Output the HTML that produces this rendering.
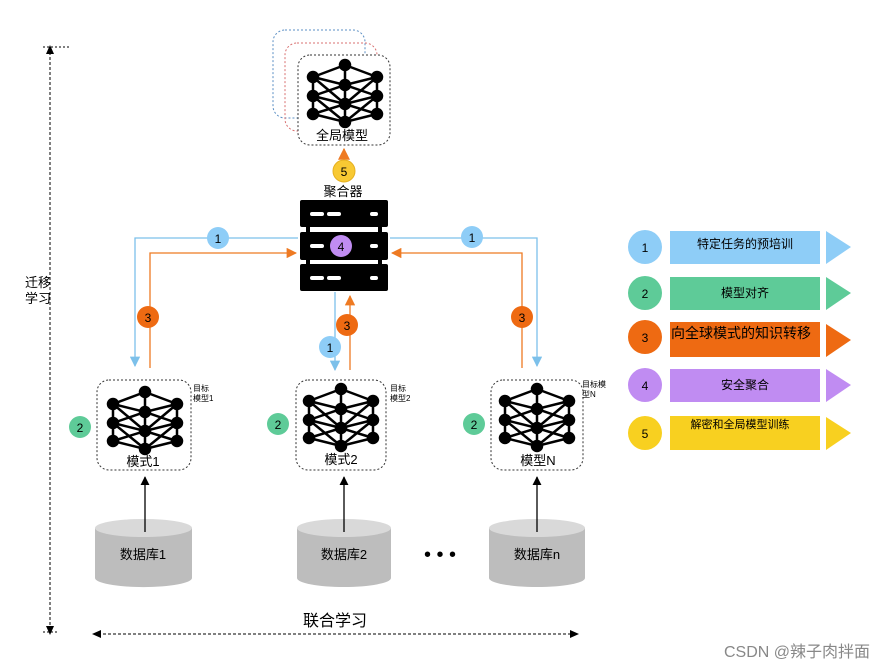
<!DOCTYPE html>
<html><head><meta charset="utf-8"><style>
body{margin:0;background:#fff;}
svg{display:block;font-family:"Liberation Sans","Noto Sans CJK SC",sans-serif;}
</style></head><body>
<svg width="886" height="670" viewBox="0 0 886 670" xmlns="http://www.w3.org/2000/svg">
<defs>
<g id="net" stroke="#000" stroke-width="2.5" fill="#000">
<path fill="none" d="M0,0 L-32,12 M0,0 L32,12 M-32,12 L-32,49 M32,12 L32,49 M0,0 L0,57 M-32,12 L0,20 L32,12 M-32,12 L0,39 M32,12 L0,39 M-32,31 L0,20 L32,31 M-32,31 L0,39 L32,31 M-32,31 L0,57 M32,31 L0,57 M-32,49 L0,39 L32,49 M-32,49 L0,57 L32,49"/>
<circle cx="0" cy="0" r="5"/><circle cx="0" cy="20" r="5"/><circle cx="0" cy="39" r="5"/><circle cx="0" cy="57" r="5"/>
<circle cx="-32" cy="12" r="5"/><circle cx="-32" cy="31" r="5"/><circle cx="-32" cy="49" r="5"/>
<circle cx="32" cy="12" r="5"/><circle cx="32" cy="31" r="5"/><circle cx="32" cy="49" r="5"/>
</g>
<marker id="ab" viewBox="0 0 10 10" refX="9" refY="5" markerWidth="8" markerHeight="8" orient="auto"><path d="M0,0 L10,5 L0,10z" fill="#7cc0ea"/></marker>
<marker id="ao" viewBox="0 0 10 10" refX="9" refY="5" markerWidth="8" markerHeight="8" orient="auto"><path d="M0,0 L10,5 L0,10z" fill="#ee7a22"/></marker>
<marker id="ak" viewBox="0 0 10 10" refX="9" refY="5" markerWidth="7" markerHeight="7" orient="auto"><path d="M0,0 L10,5 L0,10z" fill="#000"/></marker>
</defs>

<!-- global model stacked boxes -->
<rect x="273" y="30" width="92" height="88" rx="12" fill="none" stroke="#5b8fc4" stroke-dasharray="2,2"/>
<rect x="285" y="43" width="92" height="88" rx="12" fill="none" stroke="#d87070" stroke-dasharray="2,2"/>
<rect x="298" y="55" width="92" height="90" rx="12" fill="#fff" stroke="#333" stroke-dasharray="2,2"/>
<use href="#net" x="345" y="65"/>
<text x="342" y="140" font-size="13" text-anchor="middle">全局模型</text>

<!-- arrow 5 -->
<line x1="344" y1="162" x2="344" y2="149" stroke="#ee9a22" stroke-width="1.5" marker-end="url(#ao)"/>
<circle cx="344" cy="171" r="11" fill="#f8c933" stroke="#e6b020"/>
<text x="344" y="176" font-size="12" text-anchor="middle">5</text>
<text x="343" y="196" font-size="13" text-anchor="middle">聚合器</text>

<!-- server -->
<g fill="#000">
<rect x="300" y="200" width="88" height="27" rx="2"/>
<rect x="300" y="232" width="88" height="28" rx="2"/>
<rect x="300" y="264" width="88" height="27" rx="2"/>
<rect x="306" y="225" width="4" height="42"/><rect x="378" y="225" width="4" height="42"/>
</g>
<g fill="#fff">
<rect x="310" y="212" width="14" height="4" rx="2"/><rect x="327" y="212" width="14" height="4" rx="2"/><rect x="370" y="212" width="8" height="4" rx="2"/>
<rect x="310" y="244" width="14" height="4" rx="2"/><rect x="370" y="244" width="8" height="4" rx="2"/>
<rect x="310" y="276" width="14" height="4" rx="2"/><rect x="327" y="276" width="14" height="4" rx="2"/><rect x="370" y="276" width="8" height="4" rx="2"/>
</g>
<circle cx="341" cy="246" r="11" fill="#c08cf2"/>
<text x="341" y="251" font-size="12" text-anchor="middle">4</text>

<!-- connectors -->
<g fill="none" stroke-width="1.3">
<path d="M298,238 L135,238 L135,366" stroke="#7cc0ea" marker-end="url(#ab)"/>
<path d="M150,368 L150,253 L296,253" stroke="#ee7a22" marker-end="url(#ao)"/>
<path d="M390,238 L537,238 L537,366" stroke="#7cc0ea" marker-end="url(#ab)"/>
<path d="M522,368 L522,253 L392,253" stroke="#ee7a22" marker-end="url(#ao)"/>
<path d="M335,292 L335,370" stroke="#7cc0ea" marker-end="url(#ab)"/>
<path d="M350,370 L350,296" stroke="#ee7a22" marker-end="url(#ao)"/>
</g>
<g font-size="12" text-anchor="middle">
<circle cx="218" cy="238" r="11" fill="#8ecdf7"/><text x="218" y="243">1</text>
<circle cx="472" cy="237" r="11" fill="#8ecdf7"/><text x="472" y="242">1</text>
<circle cx="330" cy="347" r="11" fill="#8ecdf7"/><text x="330" y="352">1</text>
<circle cx="148" cy="317" r="11" fill="#ee6a12"/><text x="148" y="322">3</text>
<circle cx="522" cy="317" r="11" fill="#ee6a12"/><text x="522" y="322">3</text>
<circle cx="347" cy="325" r="11" fill="#ee6a12"/><text x="347" y="330">3</text>
<circle cx="80" cy="427" r="11" fill="#5ecb98"/><text x="80" y="432">2</text>
<circle cx="278" cy="424" r="11" fill="#5ecb98"/><text x="278" y="429">2</text>
<circle cx="474" cy="424" r="11" fill="#5ecb98"/><text x="474" y="429">2</text>
</g>

<!-- local models -->
<g fill="#fff" stroke="#333" stroke-dasharray="2,2">
<rect x="97" y="380" width="94" height="90" rx="12"/>
<rect x="296" y="380" width="90" height="90" rx="12"/>
<rect x="491" y="380" width="92" height="90" rx="12"/>
</g>
<use href="#net" x="145" y="392"/>
<use href="#net" x="341" y="389"/>
<use href="#net" x="537" y="389"/>
<g font-size="13" text-anchor="middle">
<text x="143" y="466">模式1</text><text x="341" y="464">模式2</text><text x="538" y="465">模型N</text>
</g>
<g font-size="8">
<text x="193" y="391">目标</text><text x="193" y="401">模型1</text>
<text x="390" y="391">目标</text><text x="390" y="401">模型2</text>
<text x="582" y="387">目标模</text><text x="582" y="397">型N</text>
</g>

<!-- cylinders -->
<g>
<path d="M95,528 L95,578 A48,9 0 0 0 192,578 L192,528z" fill="#bdbdbd"/>
<ellipse cx="143.5" cy="528" rx="48.5" ry="9" fill="#d9d9d9"/>
<path d="M297,528 L297,578 A47,9 0 0 0 391,578 L391,528z" fill="#bdbdbd"/>
<ellipse cx="344" cy="528" rx="47" ry="9" fill="#d9d9d9"/>
<path d="M489,528 L489,578 A48,9 0 0 0 585,578 L585,528z" fill="#bdbdbd"/>
<ellipse cx="537" cy="528" rx="48" ry="9" fill="#d9d9d9"/>
</g>
<g font-size="13" text-anchor="middle">
<text x="143" y="559">数据库1</text><text x="344" y="559">数据库2</text><text x="537" y="559">数据库n</text>
</g>
<text x="440" y="561" font-size="20" text-anchor="middle">• • •</text>
<g stroke="#000" stroke-width="1.3">
<line x1="145" y1="532" x2="145" y2="477" marker-end="url(#ak)"/>
<line x1="344" y1="532" x2="344" y2="477" marker-end="url(#ak)"/>
<line x1="537" y1="532" x2="537" y2="477" marker-end="url(#ak)"/>
</g>

<!-- axes -->
<g stroke="#000" stroke-width="1" stroke-dasharray="3,2">
<line x1="50" y1="52" x2="50" y2="628"/>
<line x1="98" y1="634" x2="573" y2="634"/>
</g>
<path d="M50,45 L46,54 L54,54z M50,635 L46,626 L54,626z M92,634 L101,630 L101,638z M579,634 L570,630 L570,638z" fill="#000"/>
<line x1="43" y1="47" x2="70" y2="47" stroke="#000" stroke-dasharray="2,2"/>
<line x1="43" y1="632" x2="58" y2="632" stroke="#000" stroke-dasharray="2,2"/>
<text x="38" y="287" font-size="13" text-anchor="middle">迁移</text>
<text x="38" y="303" font-size="13" text-anchor="middle">学习</text>
<text x="335" y="626" font-size="16" text-anchor="middle">联合学习</text>

<!-- legend -->
<g font-size="12" text-anchor="middle">
<circle cx="645" cy="247" r="17" fill="#8ecdf7"/><text x="645" y="252">1</text>
<rect x="670" y="231" width="150" height="33" fill="#8ecdf7"/><path d="M826,231 L851,247 L826,264z" fill="#8ecdf7"/>
<text x="745" y="248">特定任务的预培训</text>
<circle cx="645" cy="293" r="17" fill="#5ecb98"/><text x="645" y="298">2</text>
<rect x="670" y="277" width="150" height="33" fill="#5ecb98"/><path d="M826,277 L851,293 L826,310z" fill="#5ecb98"/>
<text x="745" y="297">模型对齐</text>
<circle cx="645" cy="337" r="17" fill="#ee6a12"/><text x="645" y="342">3</text>
<rect x="670" y="322" width="150" height="35" fill="#ee6a12"/><path d="M826,324 L851,340 L826,357z" fill="#ee6a12"/>
<text x="741" y="338" font-size="14">向全球模式的知识转移</text>
<circle cx="645" cy="385" r="17" fill="#c08cf2"/><text x="645" y="390">4</text>
<rect x="670" y="369" width="150" height="33" fill="#c08cf2"/><path d="M826,369 L851,385 L826,402z" fill="#c08cf2"/>
<text x="745" y="389">安全聚合</text>
<circle cx="645" cy="433" r="17" fill="#f8d020"/><text x="645" y="438">5</text>
<rect x="670" y="416" width="150" height="34" fill="#f8d020"/><path d="M826,417 L851,433 L826,450z" fill="#f8d020"/>
<text x="740" y="428" font-size="11">解密和全局模型训练</text>
</g>

<text x="870" y="657" font-size="16" fill="#888" text-anchor="end">CSDN @辣子肉拌面</text>
</svg>
</body></html>
